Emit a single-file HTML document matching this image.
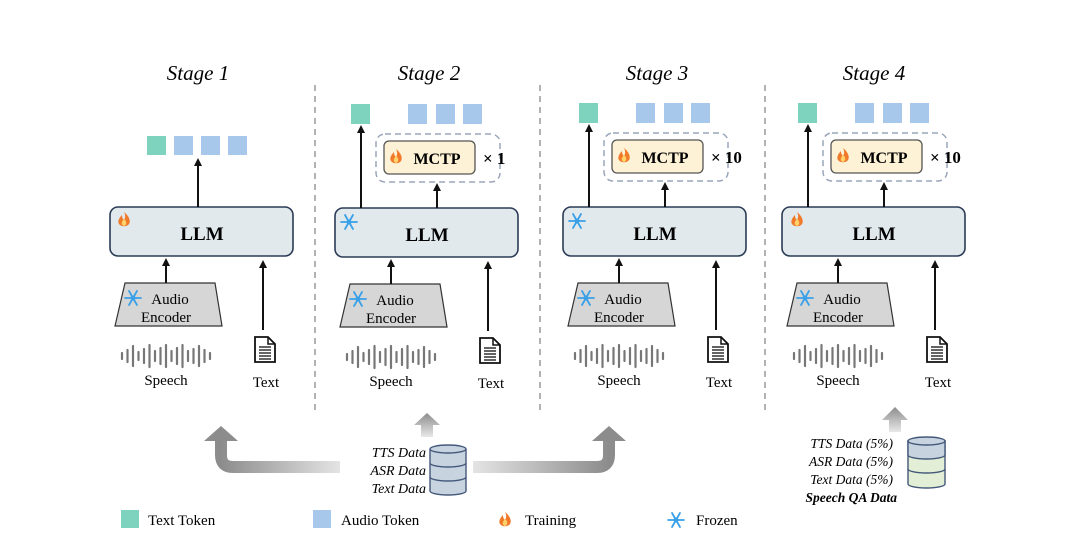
<!DOCTYPE html>
<html><head><meta charset="utf-8"><style>
html,body{margin:0;padding:0;background:#fff;}
svg{display:block;}
text{font-family:"Liberation Serif",serif;}
</style></head><body>
<svg width="1080" height="542" viewBox="0 0 1080 542" xmlns="http://www.w3.org/2000/svg">
<defs>
<marker id="ah" markerWidth="8" markerHeight="8" refX="4" refY="4" orient="auto" markerUnits="userSpaceOnUse">
<path d="M0,0 L8,4 L0,8 Z" fill="#111"/></marker>
<linearGradient id="gl" x1="1" y1="0" x2="0" y2="0"><stop offset="0" stop-color="#e4e4e4"/><stop offset="1" stop-color="#8c8c8c"/></linearGradient>
<linearGradient id="gr" x1="0" y1="0" x2="1" y2="0"><stop offset="0" stop-color="#e4e4e4"/><stop offset="1" stop-color="#8c8c8c"/></linearGradient>
<linearGradient id="gu" x1="0" y1="1" x2="0" y2="0"><stop offset="0" stop-color="#e8e8e8"/><stop offset="1" stop-color="#8c8c8c"/></linearGradient>
<g id="flame"><path d="M0,-7 C5,-3 7,2 5,5 C3,8 -3,8 -5,5 C-7,2 -4,-2 -2,-4 C-2,-1 -1,0 0,1 C2,-2 1,-5 0,-7Z" fill="#f07a2a"/><path d="M0,0 C3,2 3,6 0,7 C-3,6 -3,3 0,0Z" fill="#ffd36b"/></g>
<g id="snow" stroke="#3aa0e8" stroke-width="1.8" stroke-linecap="round"><line x1="-8" y1="0" x2="8" y2="0"/><line x1="-4" y1="-7" x2="4" y2="7"/><line x1="-4" y1="7" x2="4" y2="-7"/><circle r="2.5" fill="#3aa0e8" stroke="none"/></g>
<g id="wave" stroke="#777" stroke-width="2.2" stroke-linecap="round">
<line x1="-44" y1="-3" x2="-44" y2="3"/><line x1="-38.5" y1="-6" x2="-38.5" y2="6"/><line x1="-33" y1="-10" x2="-33" y2="10"/><line x1="-27.5" y1="-4" x2="-27.5" y2="4"/><line x1="-22" y1="-7" x2="-22" y2="7"/><line x1="-16.5" y1="-11" x2="-16.5" y2="11"/><line x1="-11" y1="-5" x2="-11" y2="5"/><line x1="-5.5" y1="-8" x2="-5.5" y2="8"/><line x1="0" y1="-11" x2="0" y2="11"/><line x1="5.5" y1="-5" x2="5.5" y2="5"/><line x1="11" y1="-8" x2="11" y2="8"/><line x1="16.5" y1="-11" x2="16.5" y2="11"/><line x1="22" y1="-5" x2="22" y2="5"/><line x1="27.5" y1="-7" x2="27.5" y2="7"/><line x1="33" y1="-10" x2="33" y2="10"/><line x1="38.5" y1="-6" x2="38.5" y2="6"/><line x1="44" y1="-3" x2="44" y2="3"/></g>
<g id="doc"><path d="M0,0 H13 L20,7 V25 H0 Z" fill="#fff" stroke="#111" stroke-width="1.8"/><path d="M13,0 V7 H20" fill="none" stroke="#111" stroke-width="1.5"/><g stroke="#111" stroke-width="1.3"><line x1="4" y1="10" x2="16" y2="10"/><line x1="4" y1="13" x2="16" y2="13"/><line x1="4" y1="16" x2="16" y2="16"/><line x1="4" y1="19" x2="16" y2="19"/><line x1="4" y1="22" x2="16" y2="22"/></g></g>
<g id="base">
<rect x="0" y="0" width="183" height="49" rx="8" fill="#e1e9ed" stroke="#2b3b55" stroke-width="1.6"/>
<text x="92" y="33" font-size="19" font-weight="bold" text-anchor="middle">LLM</text>
<path d="M15,76 H105 L112,119 H5 Z" fill="#d6d6d6" stroke="#333" stroke-width="1.2"/>
<text x="60" y="97" font-size="15" text-anchor="middle">Audio</text>
<text x="56" y="115" font-size="15" text-anchor="middle">Encoder</text>
<use href="#snow" x="23" y="91"/>
<line x1="56" y1="76" x2="56" y2="55" stroke="#111" stroke-width="2" marker-end="url(#ah)"/>
<line x1="153" y1="123" x2="153" y2="57" stroke="#111" stroke-width="2" marker-end="url(#ah)"/>
<use href="#doc" x="145" y="130"/>
<use href="#wave" x="56" y="149"/>
<text x="56" y="178" font-size="15" text-anchor="middle">Speech</text>
<text x="156" y="180" font-size="15" text-anchor="middle">Text</text>
</g>
<g id="top2">
<rect x="16" y="-104" width="19" height="20" fill="#7dd3bd"/>
<rect x="73" y="-104" width="19" height="20" fill="#a7c8ea"/>
<rect x="101" y="-104" width="19" height="20" fill="#a7c8ea"/>
<rect x="128" y="-104" width="19" height="20" fill="#a7c8ea"/>
<line x1="26" y1="0" x2="26" y2="-79" stroke="#111" stroke-width="2" marker-end="url(#ah)"/>
<rect x="41" y="-74" width="124" height="48" rx="9" fill="none" stroke="#9aa6ba" stroke-width="1.5" stroke-dasharray="6,4"/>
<rect x="49" y="-67" width="91" height="33" rx="5" fill="#fdf1d6" stroke="#555" stroke-width="1.3"/>
<use href="#flame" x="61" y="-52"/>
<text x="102" y="-44" font-size="16" font-weight="bold" text-anchor="middle">MCTP</text>
<line x1="102" y1="0" x2="102" y2="-21" stroke="#111" stroke-width="2" marker-end="url(#ah)"/>
</g>
</defs>

<g font-size="21" font-style="italic" text-anchor="middle">
<text x="198" y="80">Stage 1</text><text x="429" y="80">Stage 2</text><text x="657" y="80">Stage 3</text><text x="874" y="80">Stage 4</text>
</g>
<g stroke="#888" stroke-width="1.3" stroke-dasharray="6,5">
<line x1="315" y1="85" x2="315" y2="412"/><line x1="540" y1="85" x2="540" y2="412"/><line x1="765" y1="85" x2="765" y2="412"/>
</g>

<g transform="translate(110,207)">
<use href="#base"/><use href="#flame" x="14" y="12"/>
<rect x="37" y="-71" width="19" height="19" fill="#7dd3bd"/>
<rect x="64" y="-71" width="19" height="19" fill="#a7c8ea"/>
<rect x="91" y="-71" width="19" height="19" fill="#a7c8ea"/>
<rect x="118" y="-71" width="19" height="19" fill="#a7c8ea"/>
<line x1="88" y1="0" x2="88" y2="-45" stroke="#111" stroke-width="2" marker-end="url(#ah)"/>
</g>
<g transform="translate(335,208)">
<use href="#base"/><use href="#top2"/><use href="#snow" x="14" y="14"/>
<text x="148" y="-44" font-size="17" font-weight="bold">× 1</text>
</g>
<g transform="translate(563,207)">
<use href="#base"/><use href="#top2"/><use href="#snow" x="14" y="14"/>
<text x="148" y="-44" font-size="17" font-weight="bold">× 10</text>
</g>
<g transform="translate(782,207)">
<use href="#base"/><use href="#top2"/><use href="#flame" x="15" y="12"/>
<text x="148" y="-44" font-size="17" font-weight="bold">× 10</text>
</g>

<path d="M340,467 H233 Q221,467 221,455 V440" fill="none" stroke="url(#gl)" stroke-width="12"/>
<path d="M204,441 L221,426 L238,441 Z" fill="#8c8c8c"/>
<path d="M473,467 H597 Q609,467 609,455 V440" fill="none" stroke="url(#gr)" stroke-width="12"/>
<path d="M592,441 L609,426 L626,441 Z" fill="#8c8c8c"/>
<path d="M421,437 V425 H414 L427,413 L440,425 H433 V437 Z" fill="url(#gu)"/>
<path d="M889,432 V420 H882 L895,407 L908,420 H901 V432 Z" fill="url(#gu)"/>

<g font-size="14" font-style="italic" text-anchor="end">
<text x="426" y="457">TTS Data</text><text x="426" y="475">ASR Data</text><text x="426" y="493">Text Data</text>
</g>
<g stroke="#44597a" stroke-width="1.4">
<path d="M430,449 V491 A18,4 0 0 0 466,491 V449" fill="#c8d3e0"/>
<ellipse cx="448" cy="449" rx="18" ry="4" fill="#c8d3e0"/>
<path d="M430,463 A18,4 0 0 0 466,463 M430,477 A18,4 0 0 0 466,477" fill="none"/>
</g>

<g font-size="13.5" font-style="italic" text-anchor="end">
<text x="893" y="448">TTS Data (5%)</text><text x="893" y="466">ASR Data (5%)</text><text x="893" y="484">Text Data (5%)</text>
<text x="897" y="502" font-weight="bold">Speech QA Data</text>
</g>
<g stroke="#44597a" stroke-width="1.4">
<path d="M908,441 V484 A18.5,4 0 0 0 945,484 V441 Z" fill="#e2efd6"/>
<path d="M908,441 V455 A18.5,4 0 0 0 945,455 V441 Z" fill="#c8d3e0"/>
<ellipse cx="926.5" cy="441" rx="18.5" ry="4" fill="#c8d3e0"/>
<path d="M908,469 A18.5,4 0 0 0 945,469" fill="none"/>
</g>

<rect x="121" y="510" width="18" height="18" fill="#7dd3bd"/>
<text x="148" y="525" font-size="15">Text Token</text>
<rect x="313" y="510" width="18" height="18" fill="#a7c8ea"/>
<text x="341" y="525" font-size="15">Audio Token</text>
<use href="#flame" x="505" y="519"/>
<text x="525" y="525" font-size="15">Training</text>
<use href="#snow" x="676" y="520"/>
<text x="696" y="525" font-size="15">Frozen</text>
</svg>
</body></html>
